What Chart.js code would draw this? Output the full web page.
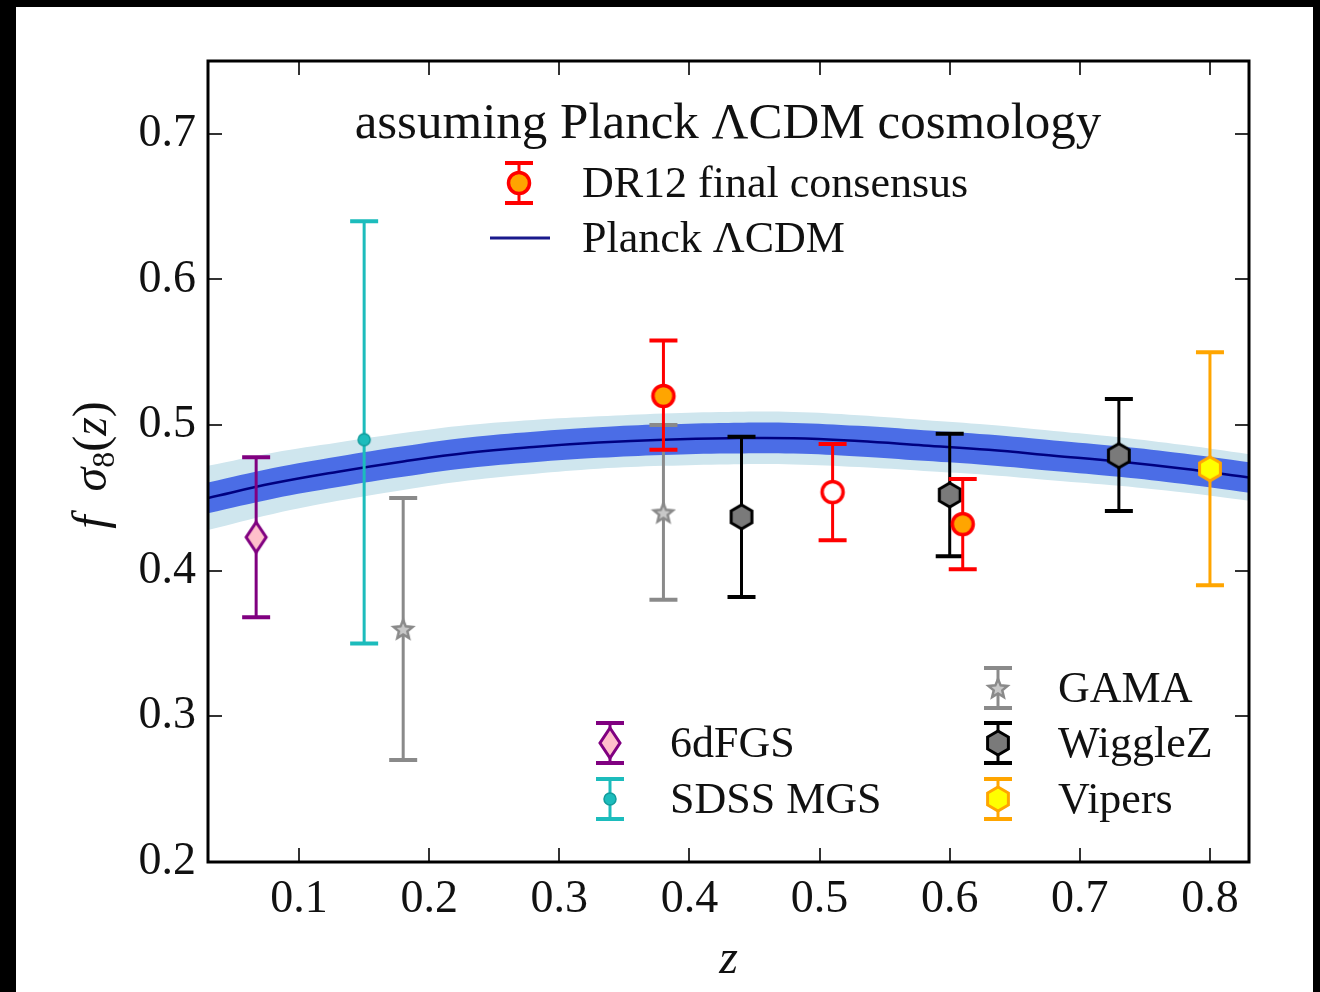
<!DOCTYPE html>
<html>
<head>
<meta charset="utf-8">
<title>f sigma8 (z)</title>
<script src="https://cdn.jsdelivr.net/npm/chart.js@4.4.1/dist/chart.umd.min.js"></script>
<style>
  html, body { margin: 0; padding: 0; background: #000; }
  #fig { display: block; }
</style>
</head>
<body>
<canvas id="fig" width="1320" height="992"></canvas>
<script>
// ---- data ----
const xTicks = [0.1, 0.2, 0.3, 0.4, 0.5, 0.6, 0.7, 0.8];
const yTicks = [0.2, 0.3, 0.4, 0.5, 0.6, 0.7];

// Planck LCDM prediction and its 1 / 2 sigma bands
const zGrid     = [0.03, 0.08, 0.13, 0.18, 0.23, 0.28, 0.33, 0.38, 0.43, 0.48, 0.53, 0.58, 0.63, 0.68, 0.73, 0.78, 0.83];
const planck    = [0.450, 0.460, 0.468, 0.475, 0.481, 0.485, 0.488, 0.490, 0.491, 0.491, 0.489, 0.486, 0.483, 0.479, 0.475, 0.470, 0.464];
const planck1Hi = [0.4605, 0.4705, 0.4785, 0.4855, 0.4915, 0.4955, 0.4985, 0.5005, 0.5015, 0.5015, 0.4995, 0.4965, 0.4935, 0.4895, 0.4855, 0.4805, 0.4745];
const planck1Lo = [0.4395, 0.4495, 0.4575, 0.4645, 0.4705, 0.4745, 0.4775, 0.4795, 0.4805, 0.4805, 0.4785, 0.4755, 0.4725, 0.4685, 0.4645, 0.4595, 0.4535];
const planck2Hi = [0.472, 0.481, 0.488, 0.4945, 0.500, 0.5035, 0.506, 0.508, 0.509, 0.509, 0.5068, 0.5035, 0.5002, 0.496, 0.4917, 0.4863, 0.480];
const planck2Lo = [0.428, 0.439, 0.448, 0.4555, 0.462, 0.4665, 0.470, 0.472, 0.473, 0.473, 0.4712, 0.4685, 0.4658, 0.462, 0.4583, 0.4537, 0.448];

// measurements: z, f sigma8, lower and upper end of the error bar
const sixdfZ = [0.067], sixdfF = [0.423], sixdfLo = [0.368], sixdfHi = [0.478];
const sdssZ  = [0.15],  sdssF  = [0.49],  sdssLo  = [0.35],  sdssHi  = [0.64];
const gamaZ  = [0.18, 0.38], gamaF = [0.36, 0.44], gamaLo = [0.27, 0.38], gamaHi = [0.45, 0.50];
const wiggleZ = [0.44, 0.60, 0.73], wiggleF = [0.437, 0.452, 0.479], wiggleLo = [0.382, 0.410, 0.441], wiggleHi = [0.492, 0.494, 0.518];
const vipersZ = [0.80], vipersF = [0.47], vipersLo = [0.39], vipersHi = [0.55];
const dr12Z = [0.38, 0.51, 0.61], dr12F = [0.520, 0.454, 0.432], dr12Lo = [0.483, 0.421, 0.401], dr12Hi = [0.558, 0.487, 0.463];

const SERIF = '"Liberation Serif", "DejaVu Serif", serif';

// ---- marker images ----
function marker(w, h, draw) {
  const cv = document.createElement('canvas');
  cv.width = w; cv.height = h;
  draw(cv.getContext('2d'), w / 2, h / 2);
  return cv;
}
function poly(c, cx, cy, r, n, rot) {
  c.beginPath();
  for (let i = 0; i < n; i++) {
    const a = rot + i * 2 * Math.PI / n;
    c.lineTo(cx + r * Math.cos(a), cy + r * Math.sin(a));
  }
  c.closePath();
}
const diamondImg = marker(26, 36, (c, x, y) => {
  c.beginPath();
  c.moveTo(x, y - 15); c.lineTo(x + 10, y); c.lineTo(x, y + 15); c.lineTo(x - 10, y);
  c.closePath();
  c.fillStyle = '#ffc0cb'; c.fill();
  c.lineWidth = 3; c.strokeStyle = '#800080'; c.stroke();
});
const dotImg = marker(16, 16, (c, x, y) => {
  c.beginPath(); c.arc(x, y, 6, 0, 2 * Math.PI);
  c.fillStyle = '#1cbcbc'; c.fill();
  c.lineWidth = 1.5; c.strokeStyle = '#119c9c'; c.stroke();
});
const starImg = marker(26, 26, (c, x, y) => {
  c.beginPath();
  for (let i = 0; i < 10; i++) {
    const r = i % 2 ? 4.5 : 10;
    const a = -Math.PI / 2 + i * Math.PI / 5;
    c.lineTo(x + r * Math.cos(a), y + 1 + r * Math.sin(a));
  }
  c.closePath();
  c.fillStyle = '#c8c8c8'; c.fill();
  c.lineWidth = 2.5; c.strokeStyle = '#8a8a8a'; c.stroke();
});
const hexBlackImg = marker(30, 30, (c, x, y) => {
  poly(c, x, y, 12, 6, -Math.PI / 2);
  c.fillStyle = '#7a7a7a'; c.fill();
  c.lineWidth = 3; c.strokeStyle = '#000'; c.stroke();
});
const hexYellowImg = marker(30, 30, (c, x, y) => {
  poly(c, x, y, 12, 6, -Math.PI / 2);
  c.fillStyle = '#ffff00'; c.fill();
  c.lineWidth = 3; c.strokeStyle = '#ffa500'; c.stroke();
});
const dr12Img = marker(30, 30, (c, x, y) => {
  c.beginPath(); c.arc(x, y, 10.5, 0, 2 * Math.PI);
  c.fillStyle = '#ffa500'; c.fill();
  c.lineWidth = 3.5; c.strokeStyle = '#ff0000'; c.stroke();
});
const dr12OpenImg = marker(30, 30, (c, x, y) => {
  c.beginPath(); c.arc(x, y, 10.5, 0, 2 * Math.PI);
  c.fillStyle = '#ffffff'; c.fill();
  c.lineWidth = 3.5; c.strokeStyle = '#ff0000'; c.stroke();
});

const pts = (xs, ys) => xs.map((x, i) => ({ x: x, y: ys[i] }));

function bandSet(ys, color, fill, order) {
  return {
    data: pts(zGrid, ys), showLine: true, pointRadius: 0, borderWidth: 0,
    borderColor: 'rgba(0,0,0,0)', backgroundColor: color, fill: fill,
    tension: 0.4, order: order
  };
}
function pointSet(label, xs, ys, lo, hi, style, errColor, order) {
  return {
    label: label, data: pts(xs, ys), showLine: false,
    pointStyle: style, pointRadius: 8, order: order,
    errLo: lo, errHi: hi, errColor: errColor
  };
}

function drawErr(c, x, yTop, yBot, color) {
  c.strokeStyle = color;
  c.lineWidth = 3;
  c.beginPath(); c.moveTo(x, yTop); c.lineTo(x, yBot); c.stroke();
  c.lineWidth = 4;
  c.beginPath();
  c.moveTo(x - 14, yTop); c.lineTo(x + 14, yTop);
  c.moveTo(x - 14, yBot); c.lineTo(x + 14, yBot);
  c.stroke();
}

// ---- custom drawing: background, error bars, frame, ticks, legends, axis titles ----
const figPlugin = {
  id: 'fig',
  beforeDraw(chart) {
    const c = chart.ctx;
    c.save();
    c.fillStyle = '#000'; c.fillRect(0, 0, chart.width, chart.height);
    c.fillStyle = '#fff'; c.fillRect(16, 7, 1297, 985);
    c.restore();
  },
  beforeDatasetDraw(chart, args) {
    const ds = chart.data.datasets[args.index];
    if (!ds.errLo) return;
    const c = chart.ctx, xs = chart.scales.x, ys = chart.scales.y;
    c.save();
    ds.data.forEach((p, i) => {
      drawErr(c, xs.getPixelForValue(p.x), ys.getPixelForValue(ds.errHi[i]), ys.getPixelForValue(ds.errLo[i]), ds.errColor);
    });
    c.restore();
  },
  afterDraw(chart) {
    const c = chart.ctx, a = chart.chartArea, xs = chart.scales.x, ys = chart.scales.y;
    c.save();
    // inward ticks on all four sides
    c.strokeStyle = '#333'; c.lineWidth = 2;
    c.beginPath();
    xTicks.forEach(v => {
      const px = Math.round(xs.getPixelForValue(v));
      c.moveTo(px, a.bottom); c.lineTo(px, a.bottom - 14);
      c.moveTo(px, a.top); c.lineTo(px, a.top + 14);
    });
    yTicks.forEach(v => {
      const py = Math.round(ys.getPixelForValue(v));
      c.moveTo(a.left, py); c.lineTo(a.left + 14, py);
      c.moveTo(a.right, py); c.lineTo(a.right - 14, py);
    });
    c.stroke();
    // frame
    c.strokeStyle = '#000'; c.lineWidth = 3;
    c.strokeRect(a.left, a.top, a.right - a.left, a.bottom - a.top);

    // upper legend
    c.fillStyle = '#111';
    c.textBaseline = 'middle';
    c.textAlign = 'center';
    c.font = '51px ' + SERIF;
    c.fillText('assuming Planck \u039BCDM cosmology', 728, 125);
    c.textAlign = 'left';
    c.font = '44px ' + SERIF;
    drawErr(c, 519, 163, 203, '#ff0000');
    c.drawImage(dr12Img, 519 - 15, 183 - 15);
    c.fillText('DR12 final consensus', 582, 185);
    c.strokeStyle = '#1a1a8c'; c.lineWidth = 3;
    c.beginPath(); c.moveTo(490, 238); c.lineTo(550, 238); c.stroke();
    c.fillText('Planck \u039BCDM', 582, 240);

    // lower legend, two columns
    const entries = [
      [610, 743, diamondImg, '#800080', '6dFGS'],
      [610, 799, dotImg, '#1cbcbc', 'SDSS MGS'],
      [998, 688, starImg, '#8a8a8a', 'GAMA'],
      [998, 743, hexBlackImg, '#000000', 'WiggleZ'],
      [998, 799, hexYellowImg, '#ffa500', 'Vipers']
    ];
    entries.forEach(e => {
      drawErr(c, e[0], e[1] - 20, e[1] + 20, e[3]);
      c.drawImage(e[2], e[0] - e[2].width / 2, e[1] - e[2].height / 2);
      c.fillStyle = '#111';
      c.fillText(e[4], e[0] + 60, e[1] + 2);
    });

    // x title
    c.textAlign = 'center';
    c.font = 'italic 48px ' + SERIF;
    c.fillText('z', (a.left + a.right) / 2, 960);

    // y title: f sigma_8(z), rotated
    c.translate(92, 465);
    c.rotate(-Math.PI / 2);
    c.textAlign = 'left';
    c.textBaseline = 'alphabetic';
    const parts = [
      ['f', 'italic 48px ' + SERIF, 0],
      ['  ', '48px ' + SERIF, 0],
      ['\u03C3', 'italic 48px ' + SERIF, 0],
      ['8', '32px ' + SERIF, 8],
      ['(', '48px ' + SERIF, 0],
      ['z', 'italic 48px ' + SERIF, 0],
      [')', '48px ' + SERIF, 0]
    ];
    let total = 0;
    parts.forEach(p => { c.font = p[1]; total += c.measureText(p[0]).width; });
    let cx = -total / 2;
    parts.forEach(p => {
      c.font = p[1];
      c.fillText(p[0], cx, 14 + p[2]);
      cx += c.measureText(p[0]).width;
    });
    c.restore();
  }
};

Chart.defaults.font.family = SERIF;
Chart.defaults.color = '#111';

new Chart(document.getElementById('fig'), {
  type: 'scatter',
  data: {
    datasets: [
      bandSet(planck2Hi, '#cfe6ee', '+1', 30),
      bandSet(planck2Lo, 'rgba(0,0,0,0)', false, 29),
      bandSet(planck1Hi, '#4b6de6', '+1', 28),
      bandSet(planck1Lo, 'rgba(0,0,0,0)', false, 27),
      {
        label: 'Planck \u039BCDM', data: pts(zGrid, planck), showLine: true,
        pointRadius: 0, borderColor: '#000080', borderWidth: 2.5, fill: false,
        tension: 0.4, order: 26
      },
      pointSet('6dFGS', sixdfZ, sixdfF, sixdfLo, sixdfHi, diamondImg, '#800080', 6),
      pointSet('SDSS MGS', sdssZ, sdssF, sdssLo, sdssHi, dotImg, '#1cbcbc', 5),
      pointSet('GAMA', gamaZ, gamaF, gamaLo, gamaHi, starImg, '#8a8a8a', 4),
      pointSet('WiggleZ', wiggleZ, wiggleF, wiggleLo, wiggleHi, hexBlackImg, '#000000', 3),
      pointSet('Vipers', vipersZ, vipersF, vipersLo, vipersHi, hexYellowImg, '#ffa500', 2),
      pointSet('DR12 final consensus', dr12Z, dr12F, dr12Lo, dr12Hi, [dr12Img, dr12OpenImg, dr12Img], '#ff0000', 1)
    ]
  },
  options: {
    responsive: false,
    animation: false,
    layout: { padding: { left: 0, top: 61, right: 71, bottom: 0 } },
    plugins: { legend: { display: false }, tooltip: { enabled: false } },
    scales: {
      x: {
        type: 'linear', min: 0.03, max: 0.83,
        grid: { display: false, drawTicks: false, tickLength: 0 },
        border: { display: false },
        afterBuildTicks: s => { s.ticks = xTicks.map(v => ({ value: v })); },
        afterFit: s => { s.height = 130; },
        ticks: { font: { size: 46 }, color: '#111', padding: 10, maxRotation: 0,
                 callback: v => v.toFixed(1) }
      },
      y: {
        min: 0.2, max: 0.75,
        grid: { display: false, drawTicks: false, tickLength: 0 },
        border: { display: false },
        afterBuildTicks: s => { s.ticks = yTicks.map(v => ({ value: v })); },
        afterFit: s => { s.width = 208; },
        ticks: { font: { size: 46 }, color: '#111', padding: 12,
                 callback: v => v.toFixed(1) }
      }
    }
  },
  plugins: [figPlugin]
});
</script>
</body>
</html>
